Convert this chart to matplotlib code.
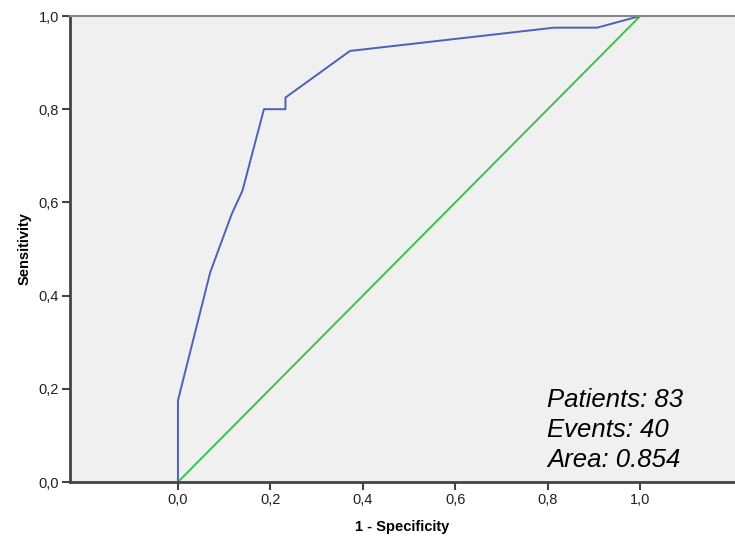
import matplotlib.pyplot as plt

plt.rcParams['font.family'] = ['Liberation Sans', 'DejaVu Sans']

# ROC points (1 - specificity, sensitivity)
fpr = [0.0, 0.0, 0.0698, 0.1163, 0.1395, 0.1860, 0.2326, 0.2326, 0.3721, 0.8140, 0.9070, 1.0]
tpr = [0.0, 0.175, 0.450, 0.575, 0.625, 0.800, 0.800, 0.825, 0.925, 0.975, 0.975, 1.0]
ref_x = [0.0, 1.0]
ref_y = [0.0, 1.0]
ticks = [0.0, 0.2, 0.4, 0.6, 0.8, 1.0]
tick_labels = ['0,0', '0,2', '0,4', '0,6', '0,8', '1,0']
info = 'Patients: 83\nEvents: 40\nArea: 0.854'

fig = plt.figure(figsize=(7.35, 5.41), dpi=100)
ax = fig.add_axes([70/735, 59/541, 665/735, 466/541])
ax.set_facecolor('#f0f0f0')

ax.plot(ref_x, ref_y, color='#3cc24a', lw=1.4)
ax.plot(fpr, tpr, color='#4a62b8', lw=1.4)

ax.set_xlim(-0.2335, 1.205)
ax.set_ylim(0, 1.0)
ax.set_xticks(ticks)
ax.set_xticklabels(tick_labels)
ax.set_yticks(ticks)
ax.set_yticklabels(tick_labels)
ax.tick_params(direction='out', length=6, width=1.5, color='#444444',
               labelsize=10.5, labelcolor='#222222', pad=2)

for s in ['left', 'bottom']:
    ax.spines[s].set_color('#444444')
    ax.spines[s].set_linewidth(2)
ax.spines['top'].set_color('#888888')
ax.spines['top'].set_linewidth(1.5)
ax.spines['right'].set_visible(False)

ax.set_xlabel('1 - Specificity', fontsize=10.5, fontweight='bold', labelpad=9)
ax.set_ylabel('Sensitivity', fontsize=10.5, fontweight='bold', labelpad=5)

ax.text(0.717, 0.021, info, transform=ax.transAxes, fontsize=18.5,
        style='italic', ha='left', va='bottom', linespacing=1.33)

fig.savefig('out.png', dpi=100)
